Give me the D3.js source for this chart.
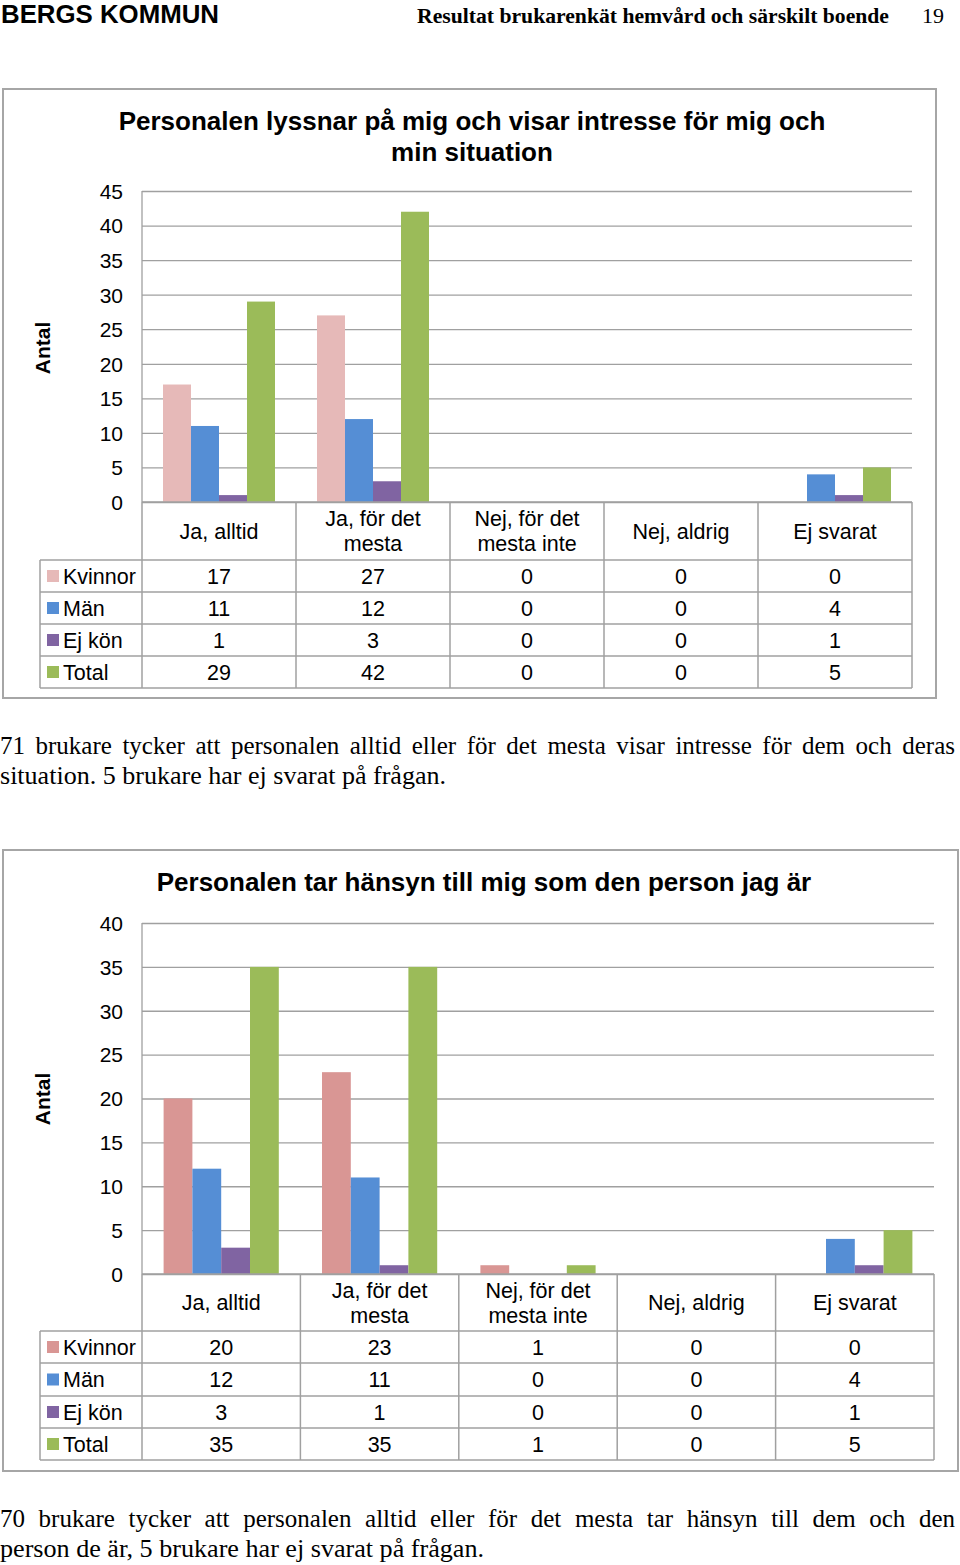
<!DOCTYPE html>
<html><head><meta charset="utf-8">
<script src="https://cdn.jsdelivr.net/npm/d3@7"></script>
<style>body{margin:0;background:#fff}svg{display:block}</style>
</head><body>
<script>
// ---- Data ----
const categories = ["Ja, alltid", "Ja, för det mesta", "Nej, för det mesta inte", "Nej, aldrig", "Ej svarat"];
const seriesNames = ["Kvinnor", "Män", "Ej kön", "Total"];
// Chart 1
const kvinnor1 = [17, 27, 0, 0, 0];
const man1     = [11, 12, 0, 0, 4];
const ejKon1   = [1, 3, 0, 0, 1];
const total1   = [29, 42, 0, 0, 5];
// Chart 2
const kvinnor2 = [20, 23, 1, 0, 0];
const man2     = [12, 11, 0, 0, 4];
const ejKon2   = [3, 1, 0, 0, 1];
const total2   = [35, 35, 1, 0, 5];
const yTicks1 = [0, 5, 10, 15, 20, 25, 30, 35, 40, 45];
const yTicks2 = [0, 5, 10, 15, 20, 25, 30, 35, 40];

const title1 = ["Personalen lyssnar på mig och visar intresse för mig och", "min situation"];
const title2 = ["Personalen tar hänsyn till mig som den person jag är"];
const para1 = ["71 brukare tycker att personalen alltid eller för det mesta visar intresse för dem och deras",
               "situation. 5 brukare har ej svarat på frågan."];
const para2 = ["70 brukare tycker att personalen alltid eller för det mesta tar hänsyn till dem och den",
               "person de är, 5 brukare har ej svarat på frågan."];

const SANS = "'Liberation Sans', Arial, sans-serif";
const SERIF = "'Liberation Serif', 'Times New Roman', serif";
const TFS = 21.5; // table font size

const svg = d3.select("body").append("svg").attr("width", 960).attr("height", 1565);
svg.append("rect").attr("width", 960).attr("height", 1565).attr("fill", "#fff");

// ---- Page header ----
svg.append("text").attr("x", 1).attr("y", 23).attr("font-family", SANS).attr("font-weight", "bold")
  .attr("font-size", 26).attr("textLength", 218).attr("lengthAdjust", "spacingAndGlyphs").text("BERGS KOMMUN");
svg.append("text").attr("x", 417).attr("y", 23).attr("font-family", SERIF).attr("font-weight", "bold")
  .attr("font-size", 22).attr("textLength", 472).attr("lengthAdjust", "spacingAndGlyphs")
  .text("Resultat brukarenkät hemvård och särskilt boende");
svg.append("text").attr("x", 922).attr("y", 23).attr("font-family", SERIF)
  .attr("font-size", 22).text("19");

const PFS = 25;
function paragraph(lines, y0, width, lastWidth) {
  lines.forEach((line, i) => {
    const y = y0 + i * 30;
    if (i < lines.length - 1) {
      const words = line.split(" ");
      const g = svg.append("text").attr("y", y).attr("font-family", SERIF).attr("font-size", PFS);
      const ws = words.map(w => {
        const t = svg.append("text").attr("font-family", SERIF).attr("font-size", PFS).text(w);
        const l = t.node().getComputedTextLength(); t.remove(); return l;
      });
      const total = d3.sum(ws);
      const gap = (width - total) / (words.length - 1);
      let x = 0;
      words.forEach((w, j) => {
        g.append("tspan").attr("x", x).text(w);
        x += ws[j] + gap;
      });
    } else {
      svg.append("text").attr("x", 0).attr("y", y).attr("font-family", SERIF).attr("font-size", PFS)
        .attr("textLength", lastWidth).attr("lengthAdjust", "spacingAndGlyphs").text(line);
    }
  });
}

function wrapLabel(text, maxW, fs) {
  const words = text.split(" ");
  const lines = []; let cur = "";
  const meas = s => { const t = svg.append("text").attr("font-family", SANS).attr("font-size", fs).text(s);
    const l = t.node().getComputedTextLength(); t.remove(); return l; };
  words.forEach(w => {
    const test = cur ? cur + " " + w : w;
    if (cur && meas(test) > maxW) { lines.push(cur); cur = w; } else cur = test;
  });
  if (cur) lines.push(cur);
  return lines;
}

function drawChart(cfg) {
  const g = svg.append("g");
  g.append("rect").attr("x", cfg.box[0]).attr("y", cfg.box[1])
    .attr("width", cfg.box[2] - cfg.box[0]).attr("height", cfg.box[3] - cfg.box[1])
    .attr("fill", "#fff").attr("stroke", "#a6a6a6").attr("stroke-width", 2);

  const x = d3.scaleBand().domain(categories).range([cfg.plot.left, cfg.plot.right]).padding(0);
  const xs = d3.scaleBand().domain(seriesNames).range([0, x.bandwidth()]).paddingInner(0).paddingOuter(0.75);
  const y = d3.scaleLinear().domain([0, d3.max(cfg.ticks)]).range([cfg.plot.bottom, cfg.plot.top]);

  g.append("g").attr("transform", `translate(${cfg.plot.left},0)`)
    .call(d3.axisLeft(y).tickValues(cfg.ticks).tickSize(-(cfg.plot.right - cfg.plot.left)).tickFormat(""))
    .call(s => s.select(".domain").remove())
    .call(s => s.selectAll("line").attr("stroke", "#a0a0a0").attr("stroke-width", 1.3));
  g.append("g").attr("transform", `translate(${cfg.plot.left - 19},0)`)
    .call(d3.axisLeft(y).tickValues(cfg.ticks).tickSize(0).tickPadding(0))
    .call(s => s.select(".domain").remove())
    .call(s => s.selectAll("text").attr("font-family", SANS).attr("font-size", 21).attr("fill", "#000")
      .attr("dy", "0.35em"));
  g.append("line").attr("x1", cfg.plot.left).attr("x2", cfg.plot.left)
    .attr("y1", cfg.plot.top).attr("y2", cfg.plot.bottom).attr("stroke", "#a0a0a0").attr("stroke-width", 1.3);

  cfg.series.forEach((vals, si) => {
    g.append("g").selectAll("rect").data(vals).join("rect")
      .attr("x", (d, i) => x(categories[i]) + xs(seriesNames[si]))
      .attr("width", xs.bandwidth())
      .attr("y", d => y(d)).attr("height", d => y(0) - y(d))
      .attr("fill", cfg.colors[si]);
  });

  g.append("text").attr("transform", `translate(${cfg.yTitleX},${cfg.yTitleY}) rotate(-90)`)
    .attr("text-anchor", "middle").attr("font-family", SANS).attr("font-weight", "bold").attr("font-size", 21)
    .text("Antal");

  cfg.title.forEach((t, i) => {
    g.append("text").attr("x", cfg.titleX).attr("y", cfg.titleY + i * 31).attr("text-anchor", "middle")
      .attr("font-family", SANS).attr("font-weight", "bold").attr("font-size", cfg.titleSize).text(t);
  });

  const tb = cfg.table;
  const bc = "#a0a0a0";
  const line = (x1, y1, x2, y2) => g.append("line").attr("x1", x1).attr("y1", y1).attr("x2", x2).attr("y2", y2)
    .attr("stroke", bc).attr("stroke-width", 1.5);
  const rowY = tb.rows;
  line(cfg.plot.left, cfg.plot.bottom, cfg.plot.right, cfg.plot.bottom);
  rowY.forEach(yy => line(tb.left, yy, cfg.plot.right, yy));
  line(tb.left, rowY[0], tb.left, rowY[rowY.length - 1]);
  categories.forEach(c => line(x(c), cfg.plot.bottom, x(c), rowY[rowY.length - 1]));
  line(cfg.plot.right, cfg.plot.bottom, cfg.plot.right, rowY[rowY.length - 1]);

  const hc = (cfg.plot.bottom + rowY[0]) / 2;
  categories.forEach(c => {
    const lines = wrapLabel(c, x.bandwidth() - 14, TFS);
    lines.forEach((l, i) => {
      g.append("text").attr("x", x(c) + x.bandwidth() / 2)
        .attr("y", hc + 7.5 + (i - (lines.length - 1) / 2) * 25)
        .attr("text-anchor", "middle").attr("font-family", SANS).attr("font-size", TFS).text(l);
    });
  });
  seriesNames.forEach((s, si) => {
    const cy = (rowY[si] + rowY[si + 1]) / 2;
    g.append("rect").attr("x", tb.left + 7).attr("y", cy - 6).attr("width", 12).attr("height", 12)
      .attr("fill", cfg.colors[si]);
    g.append("text").attr("x", tb.left + 23).attr("y", cy + 7.5).attr("font-family", SANS).attr("font-size", TFS).text(s);
    cfg.series[si].forEach((v, i) => {
      g.append("text").attr("x", x(categories[i]) + x.bandwidth() / 2).attr("y", cy + 7.5)
        .attr("text-anchor", "middle").attr("font-family", SANS).attr("font-size", TFS).text(v);
    });
  });
}

drawChart({
  box: [3, 89, 936, 698],
  plot: { left: 142, right: 912, top: 191, bottom: 502 },
  ticks: yTicks1,
  series: [kvinnor1, man1, ejKon1, total1],
  colors: ["#e6b9b8", "#558ed5", "#8064a2", "#9bbb59"],
  title: title1, titleX: 472, titleY: 130, titleSize: 26,
  yTitleX: 50, yTitleY: 348,
  table: { left: 40, rows: [560, 592, 624, 656, 688] }
});
paragraph(para1, 754, 955, 446);

drawChart({
  box: [3, 850, 958, 1471],
  plot: { left: 142, right: 934, top: 923, bottom: 1274 },
  ticks: yTicks2,
  series: [kvinnor2, man2, ejKon2, total2],
  colors: ["#d99694", "#558ed5", "#8064a2", "#9bbb59"],
  title: title2, titleX: 484, titleY: 891, titleSize: 26,
  yTitleX: 50, yTitleY: 1099,
  table: { left: 40, rows: [1331, 1363, 1396, 1428, 1460] }
});
paragraph(para2, 1527, 955, 484);
</script>
</body></html>
